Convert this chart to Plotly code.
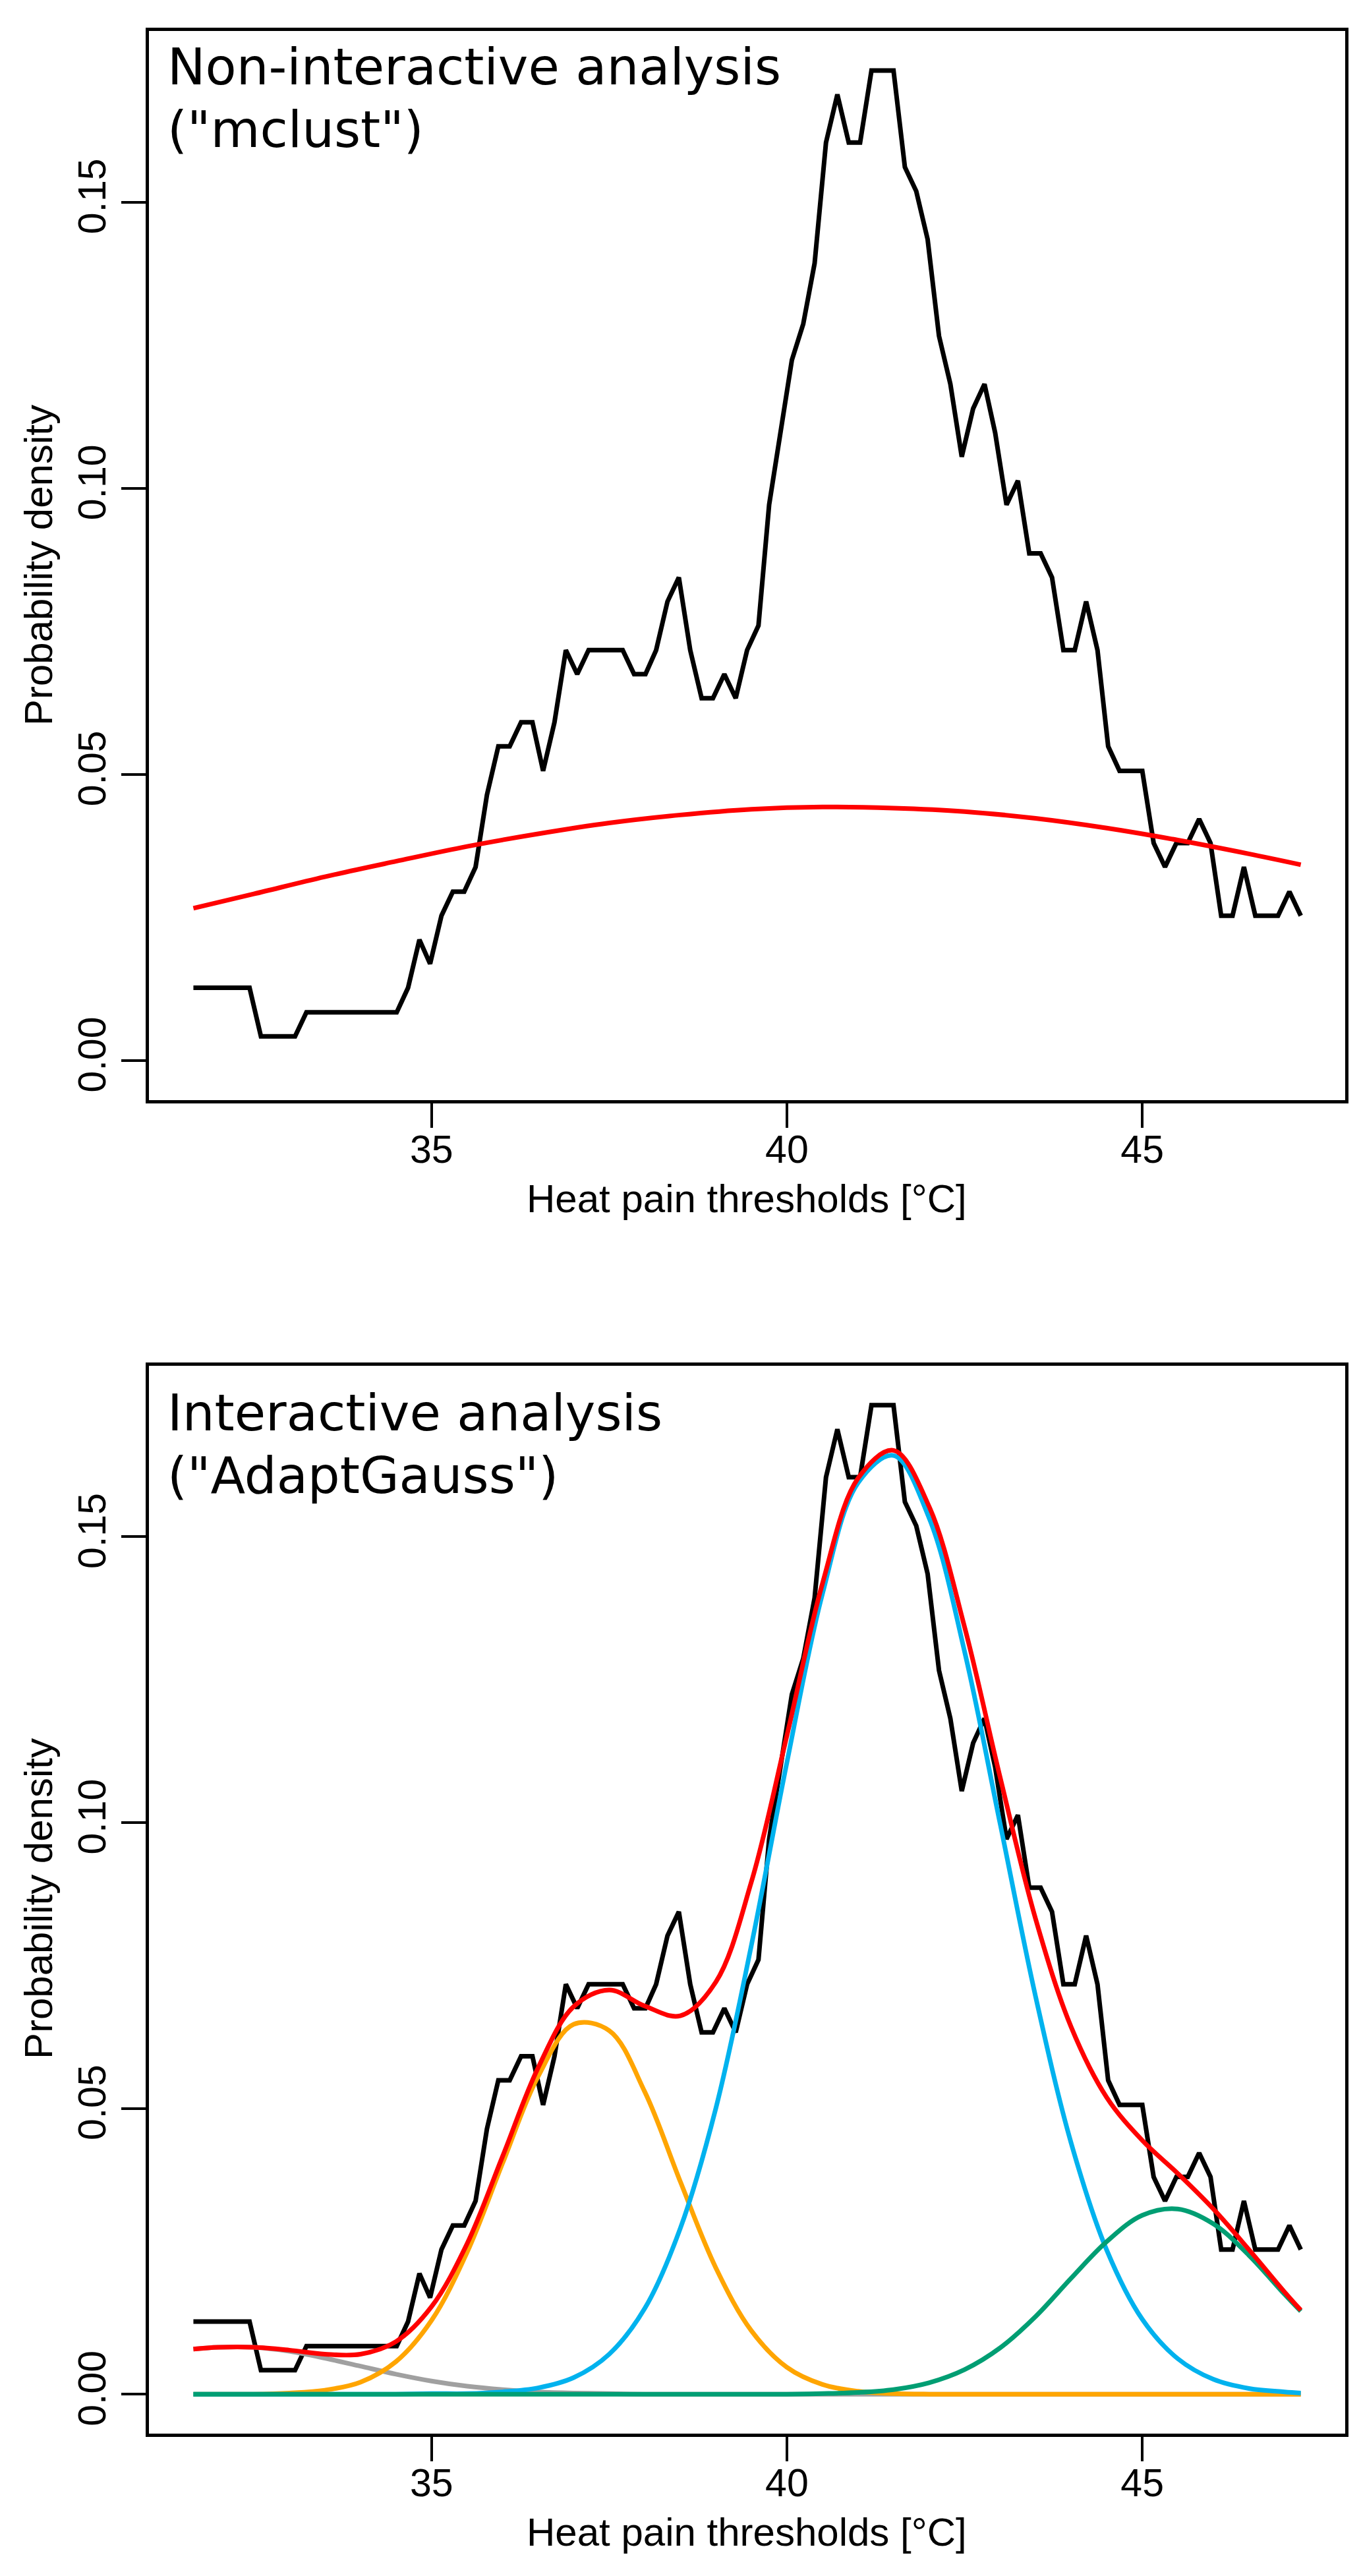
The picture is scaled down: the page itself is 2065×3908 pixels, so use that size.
import plotly.graph_objects as go

# Pareto density estimate of the heat pain thresholds (same in both panels)
pde_x = [31.65, 31.80, 31.96, 32.12, 32.28, 32.44, 32.60, 32.76, 32.92, 33.08,
         33.24, 33.39, 33.55, 33.71, 33.87, 34.03, 34.19, 34.35, 34.51, 34.67,
         34.83, 34.98, 35.14, 35.30, 35.46, 35.62, 35.78, 35.94, 36.10, 36.26,
         36.42, 36.57, 36.73, 36.89, 37.05, 37.21, 37.37, 37.53, 37.69, 37.85,
         38.01, 38.16, 38.32, 38.48, 38.64, 38.80, 38.96, 39.12, 39.28, 39.44,
         39.60, 39.75, 39.91, 40.07, 40.23, 40.39, 40.55, 40.71, 40.87, 41.03,
         41.19, 41.34, 41.50, 41.66, 41.82, 41.98, 42.14, 42.30, 42.46, 42.62,
         42.78, 42.93, 43.09, 43.25, 43.41, 43.57, 43.73, 43.89, 44.05, 44.21,
         44.37, 44.52, 44.68, 44.84, 45.00, 45.16, 45.32, 45.48, 45.64, 45.80,
         45.96, 46.11, 46.27, 46.43, 46.59, 46.75, 46.91, 47.07, 47.23]
pde_y = [0.0127, 0.0127, 0.0127, 0.0127, 0.0127, 0.0127, 0.0042, 0.0042, 0.0042, 0.0042,
         0.0084, 0.0084, 0.0084, 0.0084, 0.0084, 0.0084, 0.0084, 0.0084, 0.0084, 0.0127,
         0.0211, 0.0169, 0.0253, 0.0295, 0.0295, 0.0338, 0.0464, 0.0549, 0.0549, 0.0591,
         0.0591, 0.0506, 0.0591, 0.0717, 0.0675, 0.0717, 0.0717, 0.0717, 0.0717, 0.0675,
         0.0675, 0.0717, 0.0802, 0.0844, 0.0717, 0.0633, 0.0633, 0.0675, 0.0633, 0.0717,
         0.0760, 0.0971, 0.1097, 0.1224, 0.1287, 0.1393, 0.1604, 0.1688, 0.1604, 0.1604,
         0.1730, 0.1730, 0.1730, 0.1561, 0.1519, 0.1435, 0.1266, 0.1182, 0.1055, 0.1139,
         0.1182, 0.1097, 0.0971, 0.1013, 0.0886, 0.0886, 0.0844, 0.0717, 0.0717, 0.0802,
         0.0717, 0.0549, 0.0506, 0.0506, 0.0506, 0.0380, 0.0338, 0.0380, 0.0380, 0.0422,
         0.0380, 0.0253, 0.0253, 0.0338, 0.0253, 0.0253, 0.0253, 0.0295, 0.0253]

# mclust fit (top panel)
mclust_x = [31.65, 32.5, 33.5, 34.5, 35.5, 36.5, 37.5, 38.5, 39.5,
            40.5, 41.5, 42.5, 43.5, 44.5, 45.5, 46.5, 47.23]
mclust_y = [0.0266, 0.0291, 0.0321, 0.0348, 0.0374, 0.0396, 0.0415, 0.0429, 0.0439,
            0.0443, 0.0441, 0.0435, 0.0423, 0.0406, 0.0385, 0.0361, 0.0342]

# AdaptGauss fit (bottom panel)
gmm_x = [31.65, 32.0, 32.5, 33.0, 33.5, 34.0, 34.5, 35.0, 35.5, 36.0, 36.5,
         37.0, 37.5, 38.0, 38.5, 39.0, 39.5, 40.0, 40.5, 41.0, 41.5, 42.0,
         42.5, 43.0, 43.5, 44.0, 44.5, 45.0, 45.5, 46.0, 46.5, 47.0, 47.23]
comp_gray = [0.0079, 0.0082, 0.0082, 0.0075, 0.0063, 0.0049, 0.0035, 0.0023, 0.0014, 0.0008, 0.0004,
             0.0002, 0.0001, 0.0, 0.0, 0.0, 0.0, 0.0, 0.0, 0.0, 0.0, 0.0,
             0.0, 0.0, 0.0, 0.0, 0.0, 0.0, 0.0, 0.0, 0.0, 0.0, 0.0]
comp_orange = [0.0, 0.0, 0.0, 0.0002, 0.0007, 0.0021, 0.0057, 0.0129, 0.0248, 0.0404, 0.0556,
               0.0647, 0.0636, 0.0529, 0.0372, 0.0221, 0.0111, 0.0047, 0.0017, 0.0005, 0.0001, 0.0,
               0.0, 0.0, 0.0, 0.0, 0.0, 0.0, 0.0, 0.0, 0.0, 0.0, 0.0]
comp_blue = [0.0, 0.0, 0.0, 0.0, 0.0, 0.0, 0.0, 0.0001, 0.0001, 0.0004, 0.0011,
             0.0029, 0.0070, 0.0150, 0.0290, 0.0500, 0.0785, 0.1105, 0.1400, 0.1594, 0.1642, 0.1533,
             0.1299, 0.0998, 0.0695, 0.0439, 0.0252, 0.0131, 0.0062, 0.0026, 0.0010, 0.0004, 0.0002]
comp_green = [0.0, 0.0, 0.0, 0.0, 0.0, 0.0, 0.0, 0.0, 0.0, 0.0, 0.0,
              0.0, 0.0, 0.0, 0.0, 0.0, 0.0, 0.0, 0.0001, 0.0003, 0.0008, 0.0020,
              0.0043, 0.0081, 0.0136, 0.0203, 0.0267, 0.0313, 0.0324, 0.0298, 0.0243, 0.0175, 0.0145]
mixture = [0.0079, 0.0082, 0.0082, 0.0077, 0.0070, 0.0070, 0.0092, 0.0153, 0.0263, 0.0416, 0.0571,
           0.0678, 0.0707, 0.0679, 0.0662, 0.0721, 0.0896, 0.1152, 0.1418, 0.1602, 0.1651, 0.1553,
           0.1342, 0.1079, 0.0831, 0.0642, 0.0519, 0.0444, 0.0386, 0.0324, 0.0253, 0.0179, 0.0147]

x_ticks = [35, 40, 45]
y_ticks = [0.0, 0.05, 0.10, 0.15]
y_ticktext = ["0.00", "0.05", "0.10", "0.15"]

W, H = 2065, 3908
def px(v):
    return v / W
def py(v):
    return 1 - v / H

fig = go.Figure()

fig.add_trace(go.Scatter(x=pde_x, y=pde_y, mode="lines", line=dict(color="black", width=7),
                         xaxis="x", yaxis="y"))
fig.add_trace(go.Scatter(x=mclust_x, y=mclust_y, mode="lines", line=dict(color="#FF0000", width=7, shape="spline"),
                         xaxis="x", yaxis="y"))

fig.add_trace(go.Scatter(x=pde_x, y=pde_y, mode="lines", line=dict(color="black", width=7),
                         xaxis="x2", yaxis="y2"))
for comp, col in [(comp_gray, "#A0A0A0"), (comp_orange, "#FFA500"),
                  (comp_blue, "#00B2EE"), (comp_green, "#009E73")]:
    fig.add_trace(go.Scatter(x=gmm_x, y=comp, mode="lines",
                             line=dict(color=col, width=7, shape="spline"),
                             xaxis="x2", yaxis="y2"))
fig.add_trace(go.Scatter(x=gmm_x, y=mixture, mode="lines", line=dict(color="#FF0000", width=7, shape="spline"),
                         xaxis="x2", yaxis="y2"))

tickfont = dict(family="Liberation Sans, Arial, sans-serif", size=59, color="black")
axis_style = dict(showline=True, linecolor="black", linewidth=5, mirror=True,
                  ticks="outside", ticklen=37, tickwidth=4, tickcolor="black",
                  showgrid=False, zeroline=False, tickfont=tickfont, automargin=False)

xdom = [px(217.5), px(2032.5)]
fig.update_layout(
    width=W, height=H,
    margin=dict(l=0, r=0, t=0, b=0),
    paper_bgcolor="white", plot_bgcolor="white",
    showlegend=False,
    xaxis=dict(domain=xdom, range=[31.02, 47.85], tickvals=x_ticks, anchor="y",
               ticklabelstandoff=-18, **axis_style),
    yaxis=dict(domain=[py(1660.7), py(39)], range=[-0.0069, 0.1799], tickvals=y_ticks,
               ticktext=y_ticktext, tickangle=-90, anchor="x", **axis_style),
    xaxis2=dict(domain=xdom, range=[31.02, 47.85], tickvals=x_ticks, anchor="y2",
                ticklabelstandoff=-18, **axis_style),
    yaxis2=dict(domain=[py(3684), py(2064)], range=[-0.0069, 0.1799], tickvals=y_ticks,
                ticktext=y_ticktext, tickangle=-90, anchor="x2", **axis_style),
)

title_font = dict(family="DejaVu Sans", size=77, color="black")
label_font = dict(family="Liberation Sans, Arial, sans-serif", size=60, color="black")
notes = [
    ("Non-interactive analysis", 93), ('("mclust")', 188),
    ("Interactive analysis", 2135), ('("AdaptGauss")', 2230),
]
for txt, yc in notes:
    fig.add_annotation(text=txt, x=px(244), y=py(yc), xref="paper", yref="paper",
                       xanchor="left", yanchor="middle", showarrow=False, font=title_font)

for off in [0, 2023]:
    fig.add_annotation(text="Heat pain thresholds [°C]", x=px(1125), y=py(1810 + off),
                       xref="paper", yref="paper", xanchor="center", yanchor="middle",
                       showarrow=False, font=label_font)
    fig.add_annotation(text="Probability density", x=px(50), y=py(850 + off),
                       xref="paper", yref="paper", xanchor="center", yanchor="middle",
                       textangle=-90, showarrow=False, font=label_font)

fig.write_html("out.html")
